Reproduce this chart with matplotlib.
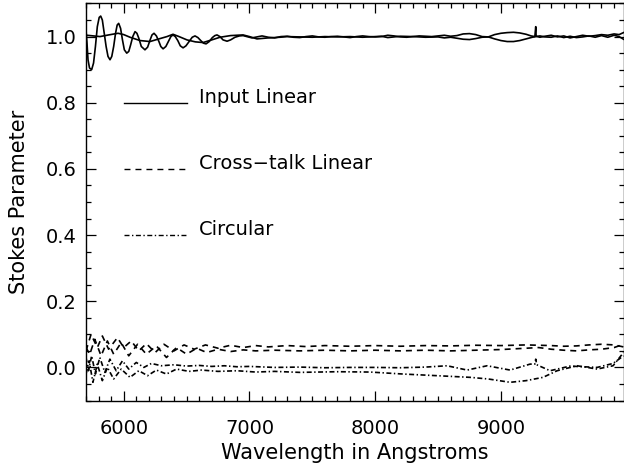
import numpy as np
import matplotlib
matplotlib.use("Agg")
import matplotlib.pyplot as plt
from matplotlib.ticker import MultipleLocator

plt.rcParams["font.family"] = ["DejaVu Sans"]
plt.rcParams["lines.scale_dashes"] = False

# ---- input linear (two solid curves near 1.0) ----
lin_a_wave = [5700, 5708, 5716, 5728, 5745, 5760, 5775, 5790, 5805, 5817, 5830, 5845, 5860, 5875,
              5891, 5905, 5920, 5935, 5948, 5960, 5975, 5990, 6005, 6024, 6040, 6055, 6072, 6090,
              6105, 6120, 6140, 6169, 6190, 6210, 6225, 6241, 6260, 6280, 6295, 6313, 6335, 6355,
              6375, 6392, 6410, 6430, 6450, 6472, 6495, 6520, 6545, 6567, 6590, 6615, 6635, 6655,
              6680, 6705, 6725, 6742, 6765, 6790, 6822, 6850, 6885, 6920, 6949, 6980, 7020, 7060,
              7100, 7150, 7200, 7250, 7300, 7350, 7400, 7450, 7500, 7550, 7600, 7650, 7700, 7750,
              7800, 7850, 7900, 7950, 8000, 8050, 8100, 8150, 8200, 8250, 8300, 8350, 8400, 8450,
              8500, 8550, 8600, 8650, 8700, 8750, 8800, 8850, 8900, 8950, 9000, 9050, 9100, 9150,
              9200, 9240, 9270, 9277, 9280, 9310, 9350, 9400, 9450, 9500, 9550, 9600, 9650, 9700,
              9750, 9800, 9850, 9900, 9940, 9975]
lin_a_val = [1.02, 0.98, 0.93, 0.905, 0.90, 0.92, 0.97, 1.03, 1.058, 1.062, 1.05, 1.01, 0.97, 0.94,
             0.93, 0.94, 0.97, 1.01, 1.035, 1.04, 1.025, 0.99, 0.96, 0.95, 0.955, 0.975, 1.0, 1.015,
             1.01, 0.995, 0.97, 0.96, 0.968, 0.99, 1.005, 1.01, 1.002, 0.985, 0.97, 0.963, 0.97, 0.985,
             1.0, 1.005, 1.0, 0.988, 0.972, 0.966, 0.972, 0.985, 0.998, 1.002, 0.997, 0.987, 0.98, 0.978,
             0.985, 0.997, 1.003, 1.005, 1.0, 0.99, 0.986, 0.99, 0.998, 1.002, 1.003, 1.0, 0.996, 0.999,
             1.002, 0.998, 0.996, 1.0, 1.001, 0.998, 0.997, 1.0, 1.002, 0.999, 0.998, 1.0, 1.001, 0.999,
             0.997, 1.0, 1.002, 1.0, 0.999, 1.0, 1.004, 1.002, 0.999, 0.998, 1.0, 1.002, 1.001, 1.0,
             1.002, 1.004, 1.001, 1.003, 1.008, 1.009, 1.006, 1.0, 0.999, 1.006, 1.01, 1.012, 1.013, 1.011,
             1.007, 1.002, 1.0, 1.03, 1.001, 0.998, 1.001, 1.004, 0.999, 1.002, 0.996, 1.0, 1.004, 1.001,
             1.003, 1.006, 1.004, 1.008, 1.006, 1.012]

lin_b_wave = [5700, 5706, 5760, 5811, 5880, 5955, 6000, 6050, 6130, 6209, 6280, 6344, 6392, 6440,
              6503, 6570, 6631, 6700, 6766, 6850, 6949, 7000, 7060, 7150, 7243, 7300, 7400, 7500,
              7600, 7700, 7800, 7900, 8000, 8050, 8100, 8150, 8200, 8300, 8400, 8500, 8550, 8600,
              8650, 8700, 8750, 8800, 8850, 8900, 8950, 9000, 9050, 9100, 9150, 9200, 9250, 9277,
              9310, 9350, 9400, 9450, 9500, 9550, 9600, 9650, 9700, 9750, 9800, 9850, 9900, 9940, 9975]
lin_b_val = [1.0, 1.004, 1.002, 1.0, 1.005, 1.01, 1.006, 0.998, 0.988, 0.985, 0.993, 1.0, 1.007, 1.0,
             0.99, 0.984, 0.982, 0.99, 0.998, 1.003, 1.005, 1.0, 0.993, 0.996, 0.998, 1.0, 0.999, 0.998,
             1.0, 0.999, 1.0, 0.998, 1.0, 1.001, 0.997, 0.999, 1.001, 1.0, 0.998, 0.999, 0.996, 0.998,
             0.995, 0.992, 0.991, 0.994, 0.998, 0.999, 0.993, 0.988, 0.985, 0.985, 0.988, 0.993, 0.998, 1.0,
             1.002, 0.999, 0.998, 1.002, 0.997, 1.001, 0.997, 0.999, 1.002, 0.998, 1.003, 0.998, 1.004, 1.0, 0.992]

# ---- cross-talk linear (two dashed curves) ----
xt_a_wave = [5700, 5740, 5790, 5830, 5880, 5950, 6000, 6060, 6120, 6180, 6250, 6320, 6400, 6480,
             6560, 6650, 6750, 6850, 6950, 7050, 7150, 7300, 7450, 7600, 7800, 8000, 8200, 8400,
             8600, 8800, 9000, 9200, 9300, 9400, 9500, 9600, 9700, 9800, 9900, 9975]
xt_a_val = [0.05, 0.10, 0.06, 0.095, 0.055, 0.09, 0.06, 0.08, 0.05, 0.072, 0.045, 0.07, 0.05, 0.068,
            0.055, 0.068, 0.058, 0.067, 0.06, 0.066, 0.062, 0.066, 0.063, 0.066, 0.064, 0.066, 0.064, 0.066,
            0.065, 0.067, 0.066, 0.068, 0.067, 0.066, 0.064, 0.065, 0.068, 0.07, 0.068, 0.062]
xt_b_wave = [5700, 5730, 5770, 5820, 5870, 5920, 5980, 6040, 6110, 6180, 6260, 6340, 6420, 6500,
             6580, 6660, 6750, 6850, 6950, 7050, 7200, 7400, 7600, 7800, 8000, 8200, 8400, 8600,
             8800, 9000, 9200, 9300, 9400, 9500, 9600, 9700, 9800, 9900, 9975]
xt_b_val = [0.06, 0.04, 0.085, 0.035, 0.08, 0.04, 0.075, 0.035, 0.07, 0.04, 0.065, 0.03, 0.06, 0.04,
            0.058, 0.045, 0.055, 0.048, 0.053, 0.05, 0.052, 0.05, 0.052, 0.05, 0.052, 0.05, 0.052, 0.05,
            0.052, 0.054, 0.058, 0.06, 0.055, 0.052, 0.05, 0.053, 0.055, 0.06, 0.07]

# ---- circular (two dash-dot curves) ----
circ_a_wave = [5700, 5720, 5745, 5775, 5810, 5850, 5890, 5940, 5990, 6040, 6100, 6160, 6220, 6300,
               6400, 6500, 6600, 6700, 6800, 6900, 7000, 7200, 7400, 7600, 7800, 8000, 8200, 8400,
               8572, 8731, 8890, 9073, 9232, 9270, 9277, 9285, 9391, 9550, 9765, 9892, 9975]
circ_a_val = [0.03, -0.01, 0.035, -0.02, 0.03, -0.015, 0.025, -0.01, 0.02, -0.005, 0.015, 0.0, 0.012, 0.005,
              0.008, 0.004, 0.006, 0.003, 0.005, 0.002, 0.003, 0.0, 0.001, -0.001, 0.0, 0.0, -0.001, 0.001,
              0.005, -0.008, 0.005, -0.008, 0.01, 0.01, 0.025, 0.008, -0.01, 0.004, 0.0, 0.012, 0.035]
circ_b_wave = [5700, 5725, 5755, 5790, 5830, 5870, 5920, 5980, 6050, 6120, 6190, 6260, 6340, 6420,
               6520, 6620, 6750, 6900, 7050, 7200, 7400, 7700, 7959, 8222, 8492, 8755, 8900, 9073,
               9200, 9335, 9447, 9606, 9765, 9892, 9975]
circ_b_val = [-0.02, 0.02, -0.045, 0.01, -0.04, 0.0, -0.035, -0.005, -0.03, -0.01, -0.025, -0.008, -0.02, -0.005,
              -0.012, -0.008, -0.012, -0.01, -0.014, -0.012, -0.015, -0.013, -0.014, -0.02, -0.025, -0.03, -0.035, -0.045,
              -0.04, -0.03, -0.01, 0.005, -0.005, 0.005, 0.045]

key_labels = ["Input Linear", "Cross\u2212talk Linear", "Circular"]
key_y = [0.8, 0.6, 0.4]

DASH = (0, (4.3, 3.6))
DASHDOT = (0, (3.6, 1.8, 1.0, 1.8))
styles = ["-", DASH, DASHDOT]

fig = plt.figure(figsize=(6.24, 4.65), dpi=100)
ax = fig.add_axes([86 / 624, 64.5 / 465, 537.5 / 624, 397 / 465])

lw = 1.2
ax.plot(lin_a_wave, lin_a_val, color="k", lw=lw, ls="-")
ax.plot(lin_b_wave, lin_b_val, color="k", lw=lw, ls="-")
ax.plot(xt_a_wave, xt_a_val, color="k", lw=lw, ls=DASH)
ax.plot(xt_b_wave, xt_b_val, color="k", lw=lw, ls=DASH)
ax.plot(circ_a_wave, circ_a_val, color="k", lw=lw, ls=DASHDOT)
ax.plot(circ_b_wave, circ_b_val, color="k", lw=lw, ls=DASHDOT)

# line key drawn inside the plot
for lab, y, st in zip(key_labels, key_y, styles):
    ax.plot([6000, 6500], [y, y], color="k", lw=1.0, ls=st)
    ax.text(6600, y, lab, fontsize=14, va="baseline", ha="left")

ax.set_xlim(5700, 9975)
ax.set_ylim(-0.1, 1.1)
ax.xaxis.set_major_locator(MultipleLocator(1000))
ax.xaxis.set_minor_locator(MultipleLocator(100))
ax.yaxis.set_major_locator(MultipleLocator(0.2))
ax.yaxis.set_minor_locator(MultipleLocator(0.05))
ax.yaxis.set_major_formatter(plt.FormatStrFormatter("%.1f"))

ax.tick_params(which="both", direction="in", top=True, right=True, width=0.9, labelsize=14)
ax.tick_params(which="major", length=7.2)
ax.tick_params(which="minor", length=3.6)
ax.tick_params(axis="x", pad=13)
ax.tick_params(axis="y", pad=6.5)
for s in ax.spines.values():
    s.set_linewidth(1.0)

ax.set_xlabel("Wavelength in Angstroms", fontsize=15, labelpad=4)
ax.set_ylabel("Stokes Parameter", fontsize=15, labelpad=12)

fig.savefig("out.png", dpi=100)
